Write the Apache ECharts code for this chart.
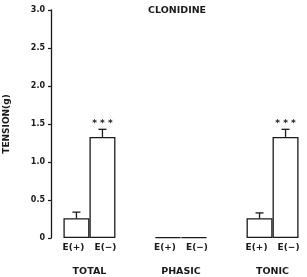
<!DOCTYPE html>
<html><head><meta charset="utf-8">
<script src="https://cdn.jsdelivr.net/npm/echarts@6/dist/echarts.min.js"></script>
<style>html,body{margin:0;padding:0;background:#fff}#c{width:307px;height:277px}</style>
</head><body><div id="c"></div>
<script>
const groups = ['TOTAL', 'PHASIC', 'TONIC'];
const groupPos = [0, 1, 2];
const condLabels = ['E(+)', 'E(−)'];
const ePlus = [0.26, 0.01, 0.26];
const eMinus = [1.33, 0.01, 1.33];
const ePlusSem = [0.08, 0, 0.07];
const eMinusSem = [0.10, 0, 0.10];
const ePlusSig = ['', '', ''];
const eMinusSig = ['* * *', '', '* * *'];
const yTicks = [0, 0.5, 1.0, 1.5, 2.0, 2.5, 3.0];

const FONT = '"DejaVu Sans", "Liberation Sans", sans-serif';
const INK = '#1a1a1a';
const BAR_W = 26;

function errRender(offset, sig) {
  return function (params, api) {
    const x = api.value(0), y = api.value(1), e = api.value(2);
    if (!(e > 0)) return null;
    const p0 = api.coord([x, y]);
    const p1 = api.coord([x, y + e]);
    const cx = p0[0] + offset;
    const st = { stroke: INK, lineWidth: 1.3 };
    const children = [
      { type: 'line', shape: { x1: cx, y1: p0[1], x2: cx, y2: p1[1] }, style: st },
      { type: 'line', shape: { x1: cx - 4, y1: p1[1], x2: cx + 4, y2: p1[1] }, style: st }
    ];
    const s = sig[params.dataIndex];
    if (s) children.push({ type: 'text', style: { text: s, x: cx, y: p1[1] - 1, align: 'center', verticalAlign: 'bottom', font: 'bold 9px ' + FONT, fill: INK } });
    return { type: 'group', children };
  };
}

const chart = echarts.init(document.getElementById('c'));
chart.setOption({
  animation: false,
  backgroundColor: '#fff',
  title: { text: 'CLONIDINE', left: 143, top: 1, textStyle: { fontFamily: FONT, fontSize: 9.5, fontWeight: 'bold', color: INK } },
  grid: { left: 51, right: 7, top: 10, bottom: 39, containLabel: false, outerBoundsMode: 'none' },
  xAxis: {
    type: 'value', min: -0.42, max: 2.3,
    axisLine: { show: false }, axisTick: { show: false }, splitLine: { show: false },
    axisLabel: {
      customValues: groupPos, margin: 4, color: INK, fontFamily: FONT,
      formatter: v => '{a|' + condLabels[0] + '}{b|' + condLabels[1] + '}\n{g|' + groups[Math.round(v)] + '}',
      rich: {
        a: { width: 32, align: 'center', fontSize: 9, fontWeight: 'bold', lineHeight: 12, fontFamily: FONT, color: INK },
        b: { width: 32, align: 'center', fontSize: 9, fontWeight: 'bold', lineHeight: 12, fontFamily: FONT, color: INK },
        g: { fontSize: 9.5, fontWeight: 'bold', lineHeight: 36, fontFamily: FONT, color: INK }
      }
    }
  },
  yAxis: {
    type: 'value', min: 0, max: 3, interval: 0.5,
    name: 'TENSION(g)', nameLocation: 'middle', nameGap: 40, nameRotate: 90,
    nameTextStyle: { fontFamily: FONT, fontSize: 9, fontWeight: 'bold', color: INK },
    axisLine: { show: true, onZero: false, lineStyle: { color: INK, width: 1.3 } },
    axisTick: { show: true, inside: false, length: 3, lineStyle: { color: INK, width: 1.2 } },
    splitLine: { show: false },
    axisLabel: { margin: 6, fontFamily: FONT, fontSize: 8, fontWeight: 'bold', color: INK,
      formatter: v => (v === 0 ? '0' : yTicks.find(t => Math.abs(t - v) < 1e-9).toFixed(1)) }
  },
  series: [
    { type: 'bar', name: condLabels[0], barWidth: BAR_W, barGap: '0%',
      itemStyle: { color: '#fff', borderColor: INK, borderWidth: 1.3 },
      data: groupPos.map((x, i) => [x, ePlus[i]]) },
    { type: 'bar', name: condLabels[1], barWidth: BAR_W, barGap: '0%',
      itemStyle: { color: '#fff', borderColor: INK, borderWidth: 1.3 },
      data: groupPos.map((x, i) => [x, eMinus[i]]) },
    { type: 'custom', renderItem: errRender(-BAR_W / 2, ePlusSig), clip: false, z: 5,
      data: groupPos.map((x, i) => [x, ePlus[i], ePlusSem[i]]) },
    { type: 'custom', renderItem: errRender(BAR_W / 2, eMinusSig), clip: false, z: 5,
      data: groupPos.map((x, i) => [x, eMinus[i], eMinusSem[i]]) }
  ]
});
</script>
</body></html>
